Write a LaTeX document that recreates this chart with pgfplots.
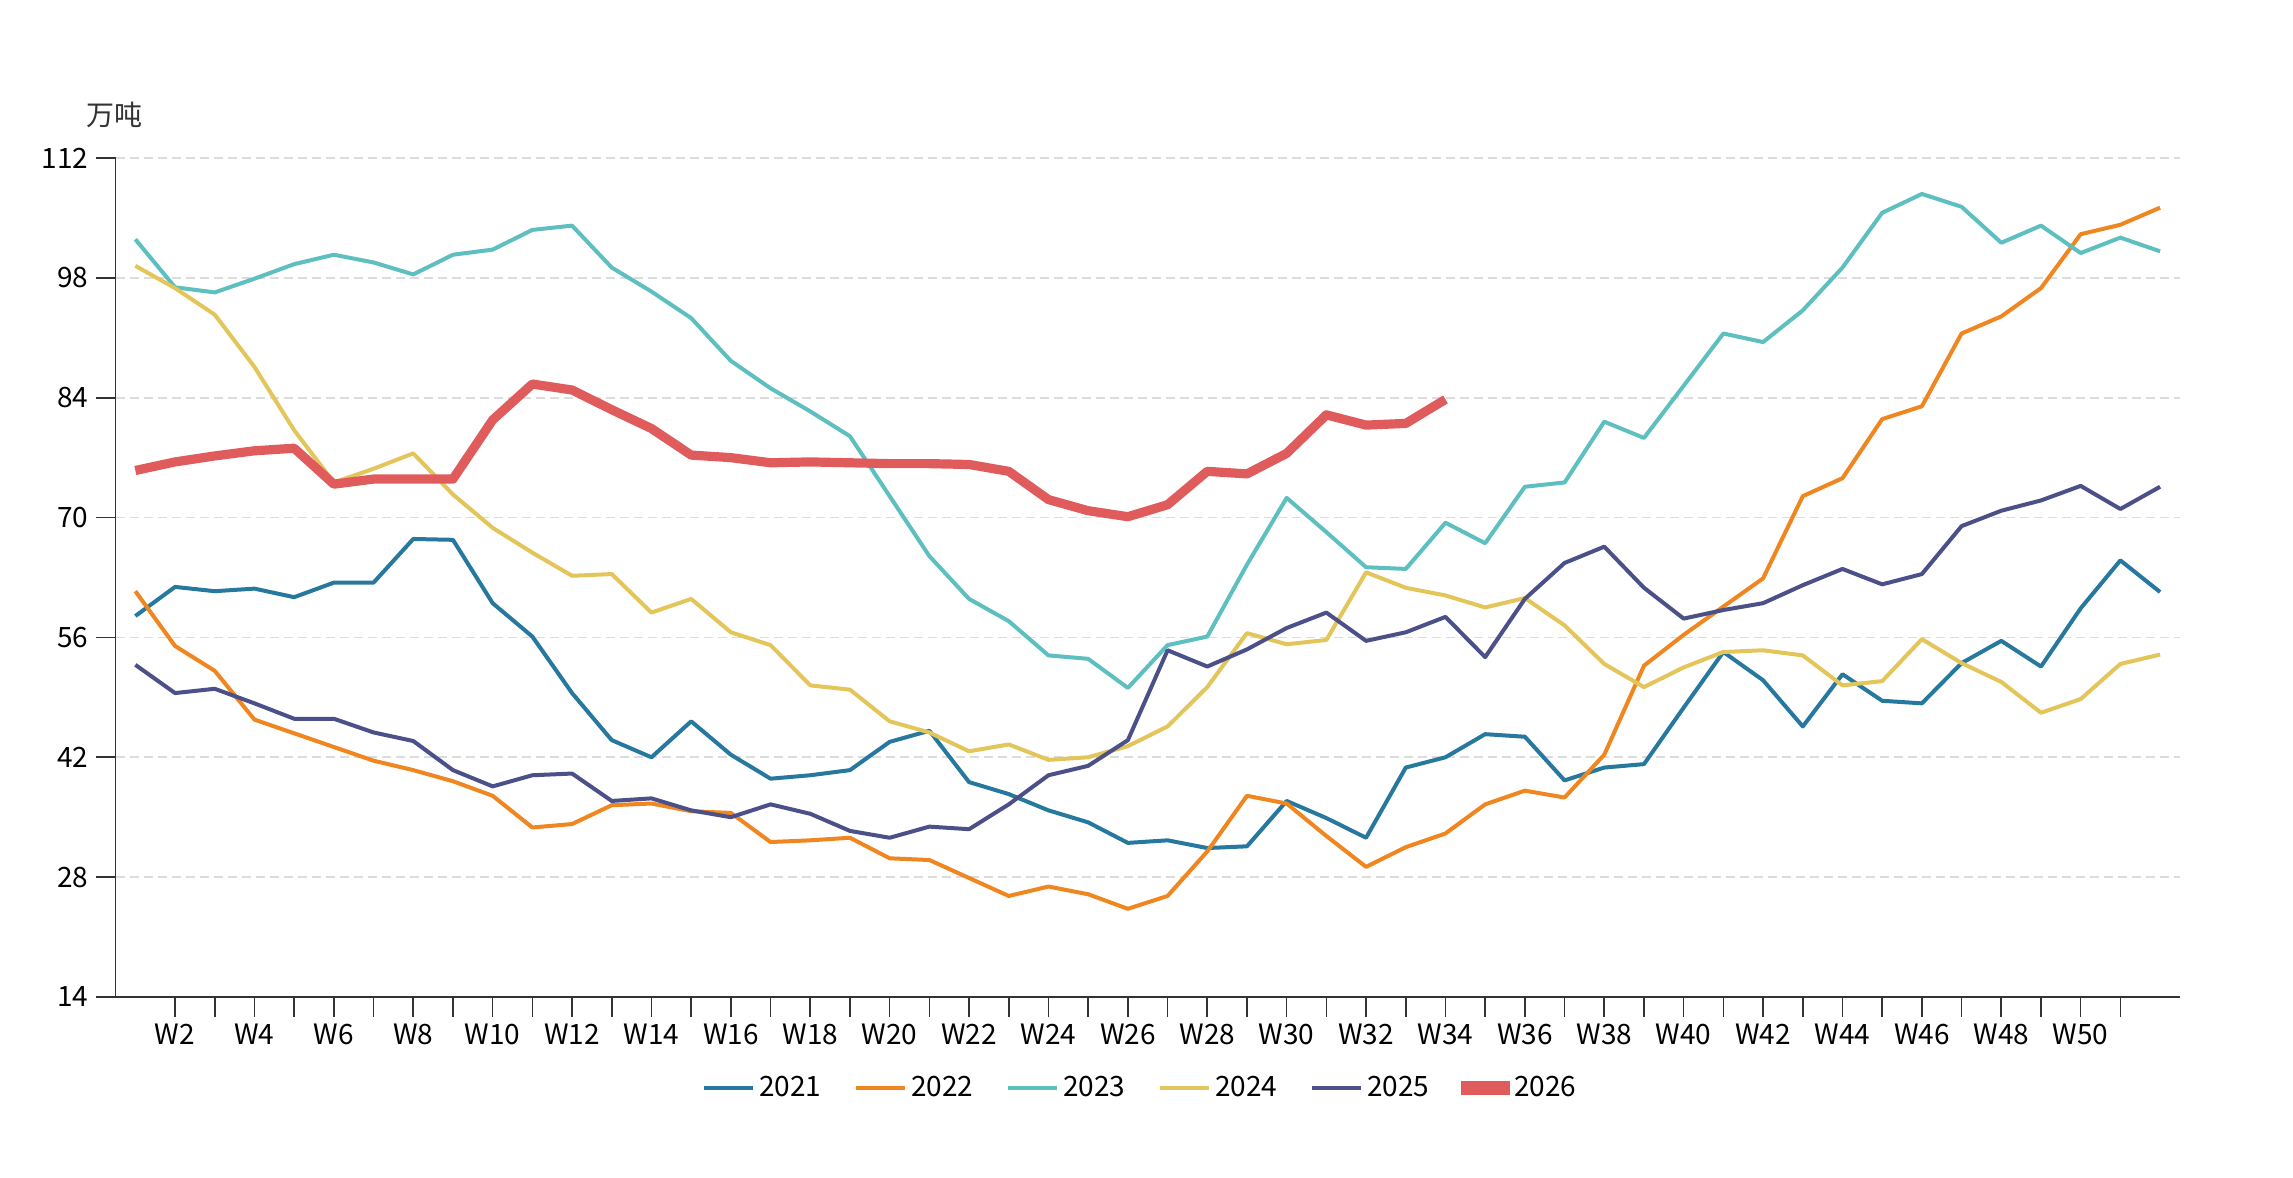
\documentclass[border=0pt]{standalone}
\usepackage{fontspec}
\setmainfont{Noto Sans CJK SC}
\usepackage{pgfplots}
\pgfplotsset{compat=1.18}
\usepackage{pgfplotstable}
\definecolor{c2021}{HTML}{27789F}
\definecolor{c2022}{HTML}{F0861F}
\definecolor{c2023}{HTML}{5EBFC0}
\definecolor{c2024}{HTML}{E3C55A}
\definecolor{c2025}{HTML}{4B5188}
\definecolor{c2026}{HTML}{E05C5C}
\definecolor{axcol}{HTML}{333333}
\definecolor{gridcol}{HTML}{DCDCDC}
\pgfplotstableread{
w y2021 y2022 y2023 y2024 y2025 y2026
1 58.5 61.4 102.5 99.4 52.8 75.5
2 61.9 55.0 96.9 96.8 49.5 76.5
3 61.4 52.1 96.3 93.7 50.0 77.2
4 61.7 46.4 97.9 87.6 48.3 77.8
5 60.7 44.8 99.6 80.2 46.5 78.1
6 62.4 43.2 100.7 74.1 46.5 73.9
7 62.4 41.6 99.8 75.7 44.9 74.5
8 67.5 40.5 98.4 77.5 43.9 74.5
9 67.4 39.2 100.7 72.7 40.5 74.5
10 60.0 37.5 101.3 68.8 38.6 81.4
11 56.1 33.8 103.6 65.9 39.9 85.6
12 49.5 34.2 104.1 63.2 40.1 84.9
13 44.0 36.4 99.2 63.4 36.9 82.6
14 42.0 36.6 96.4 58.9 37.2 80.4
15 46.2 35.7 93.3 60.5 35.8 77.3
16 42.3 35.5 88.3 56.6 35.0 77.0
17 39.5 32.1 85.1 55.1 36.5 76.4
18 39.9 32.3 82.4 50.4 35.4 76.5
19 40.5 32.6 79.5 49.9 33.4 76.4
20 43.8 30.2 72.5 46.2 32.6 76.3
21 45.1 30.0 65.5 44.9 33.9 76.3
22 39.1 27.9 60.5 42.7 33.6 76.2
23 37.7 25.8 57.9 43.5 36.5 75.4
24 35.8 26.9 53.9 41.7 39.9 72.1
25 34.4 26.0 53.5 42.0 41.0 70.8
26 32.0 24.3 50.1 43.3 44.0 70.1
27 32.3 25.8 55.1 45.6 54.5 71.5
28 31.4 31.0 56.1 50.2 52.6 75.4
29 31.6 37.5 64.5 56.5 54.6 75.1
30 36.9 36.6 72.3 55.2 57.1 77.5
31 34.9 32.8 68.3 55.7 58.9 82.0
32 32.6 29.2 64.2 63.6 55.6 80.8
33 40.8 31.5 64.0 61.8 56.6 81.0
34 42.0 33.1 69.4 60.9 58.4 83.8
35 44.7 36.5 67.0 59.5 53.7 nan
36 44.4 38.1 73.6 60.6 60.5 nan
37 39.3 37.3 74.1 57.4 64.7 nan
38 40.8 42.3 81.2 52.9 66.6 nan
39 41.2 52.7 79.3 50.2 61.8 nan
40 47.8 56.3 85.4 52.5 58.2 nan
41 54.3 59.6 91.5 54.3 59.2 nan
42 51.0 62.9 90.5 54.5 60.0 nan
43 45.6 72.5 94.2 53.9 62.1 nan
44 51.7 74.6 99.2 50.4 64.0 nan
45 48.6 81.5 105.6 50.9 62.2 nan
46 48.3 83.0 107.8 55.8 63.4 nan
47 53.0 91.5 106.3 53.0 69.0 nan
48 55.6 93.5 102.1 50.8 70.8 nan
49 52.6 96.8 104.1 47.2 72.0 nan
50 59.4 103.1 100.9 48.8 73.7 nan
51 65.0 104.2 102.7 52.9 71.0 nan
52 61.3 106.2 101.1 54.0 73.6 nan
}\datatable
\begin{document}
\begin{tikzpicture}
\path[use as bounding box] (0,0) rectangle (1146.5pt,589pt);
\node[font=\fontsize{14}{16}\selectfont, text=axcol] at (57pt,531.5pt) {万吨};
\begin{axis}[
  at={(57.75pt,90.5pt)}, anchor=south west,
  scale only axis, width=1032.25pt, height=419.5pt,
  xmin=0.5, xmax=52.5, ymin=14, ymax=112,
  axis x line*=bottom, axis y line*=left,
  axis line style={axcol, line width=0.8pt},
  tick style={axcol, line width=0.8pt},
  tick align=outside, major tick length=10pt,
  xtick={2,...,51},
  xticklabels={W2,{},W4,{},W6,{},W8,{},W10,{},W12,{},W14,{},W16,{},W18,{},W20,{},W22,{},W24,{},W26,{},W28,{},W30,{},W32,{},W34,{},W36,{},W38,{},W40,{},W42,{},W44,{},W46,{},W48,{},W50,{}},
  ytick={14,28,...,112},
  ymajorgrids,
  grid style={gridcol, line width=0.8pt, dash pattern=on 4.5pt off 2.5pt},
  tick label style={font=\fontsize{14}{16}\selectfont, text=black},
  /pgf/number format/assume math mode=true,
  unbounded coords=jump,
  legend columns=6,
  legend style={at={(0.4967,-0.1085)}, anchor=center, draw=none, fill=none,
    font=\fontsize{14}{16}\selectfont,
    /tikz/every even column/.append style={column sep=14pt}},
  line join=round,
]
\addplot[c2021, line width=2pt, legend image code/.code={\draw[c2021, line width=2.4pt] (0pt,0pt) -- (24.5pt,0pt);}] table[x=w, y=y2021] {\datatable};
\addlegendentry{2021}
\addplot[c2022, line width=2pt, legend image code/.code={\draw[c2022, line width=2.4pt] (0pt,0pt) -- (24.5pt,0pt);}] table[x=w, y=y2022] {\datatable};
\addlegendentry{2022}
\addplot[c2023, line width=2pt, legend image code/.code={\draw[c2023, line width=2.4pt] (0pt,0pt) -- (24.5pt,0pt);}] table[x=w, y=y2023] {\datatable};
\addlegendentry{2023}
\addplot[c2024, line width=2pt, legend image code/.code={\draw[c2024, line width=2.4pt] (0pt,0pt) -- (24.5pt,0pt);}] table[x=w, y=y2024] {\datatable};
\addlegendentry{2024}
\addplot[c2025, line width=2pt, legend image code/.code={\draw[c2025, line width=2.4pt] (0pt,0pt) -- (24.5pt,0pt);}] table[x=w, y=y2025] {\datatable};
\addlegendentry{2025}
\addplot[c2026, line width=4.6pt, legend image code/.code={\path[fill=c2026, draw=none] (0pt,-3.5pt) rectangle (24.5pt,3.5pt);}] table[x=w, y=y2026] {\datatable};
\addlegendentry{2026}
\end{axis}
\end{tikzpicture}
\end{document}
